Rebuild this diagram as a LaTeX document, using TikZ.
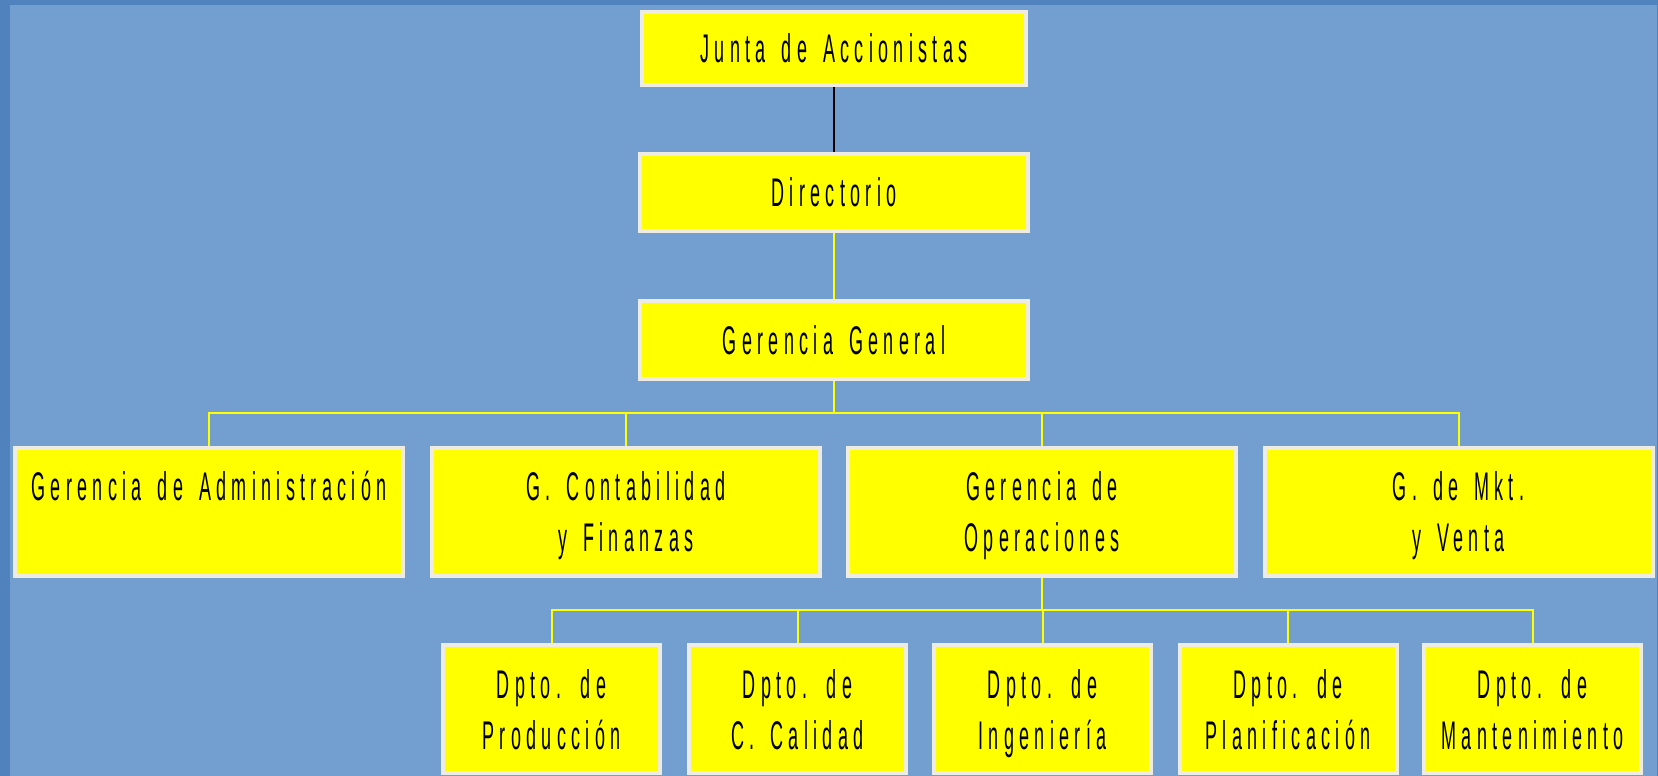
\documentclass[tikz,border=0pt]{standalone}
\usepackage{fontspec}
\newfontfamily\narrowfont[FakeStretch=0.45, LetterSpace=13.3, WordSpace=1.55]{Liberation Sans}
\usetikzlibrary{backgrounds}
\newcommand\toplift{\rule{0pt}{36pt}}
\newcommand\deptlift{\rule{0pt}{38pt}}
\newcommand\botdepth{\rule[-9pt]{0pt}{0pt}}
\definecolor{bgblue}{RGB}{114,159,207}
\definecolor{edgeblue}{RGB}{80,130,190}
\definecolor{boxedge}{RGB}{238,236,226}
\definecolor{boxfill}{RGB}{255,255,0}
\definecolor{linkyellow}{RGB}{255,255,0}
\tikzset{
  orgbox/.style={draw=boxedge, line width=4pt, fill=boxfill, inner sep=0pt,
    align=center, text=black, font=\narrowfont\fontsize{40}{51}\selectfont},
  topbox/.style={orgbox, minimum width=384pt, minimum height=73pt},
  midbox/.style={orgbox, minimum width=388pt, minimum height=78pt},
  rowbox/.style={orgbox, minimum width=388pt, minimum height=128pt},
  deptbox/.style={orgbox, minimum width=217pt, minimum height=128pt},
  conn/.style={draw=linkyellow, line width=2pt},
  blackconn/.style={draw=black, line width=2pt}
}
\begin{document}
\begin{tikzpicture}[x=1pt,y=-1pt]
\useasboundingbox (0,0) rectangle (1658,776);
\begin{scope}[on background layer]
  \fill[edgeblue] (0,0) rectangle (1658,776);
  \fill[bgblue] (10,5) rectangle (1657,776);
\end{scope}
\begin{scope}
\clip (0,0) rectangle (1658,776);
\node[topbox] (junta) at (834,48.5) {Junta de Accionistas};
\node[midbox, minimum height=77pt] (dir) at (834,192.5) {Directorio};
\node[midbox] (gg) at (834,340) {Gerencia General};
\node[rowbox] (adm) at (209,512) {\toplift Gerencia de Administración\\\botdepth};
\node[rowbox] (cont) at (626,512) {\toplift G. Contabilidad\\y Finanzas\botdepth};
\node[rowbox] (ope) at (1042,512) {\toplift Gerencia de\\Operaciones\botdepth};
\node[rowbox] (mkt) at (1458.5,512) {\toplift G. de Mkt.\\y Venta\botdepth};
\node[deptbox] (prod) at (551.5,709) {\deptlift Dpto. de\\Producción\botdepth};
\node[deptbox] (cal) at (797.5,709) {\deptlift Dpto. de\\C. Calidad\botdepth};
\node[deptbox] (ing) at (1042.5,709) {\deptlift Dpto. de\\Ingeniería\botdepth};
\node[deptbox] (plan) at (1288,709) {\deptlift Dpto. de\\Planificación\botdepth};
\node[deptbox] (mant) at (1532.5,709) {\deptlift Dpto. de\\Mantenimiento\botdepth};
\end{scope}
\begin{scope}[on background layer]
  \draw[blackconn] (junta.south) -- (dir.north);
  \draw[conn] (dir.south) -- (gg.north);
  \coordinate (bus1) at (834,413);
  \draw[conn] (gg.south) -- (bus1);
  \foreach \n in {adm,cont,ope,mkt} \draw[conn] (bus1) -| (\n.north);
  \coordinate (bus2) at (1042,610);
  \draw[conn] (ope.south) -- (bus2);
  \foreach \n in {prod,cal,ing,plan,mant} \draw[conn] (bus2) -| (\n.north);
\end{scope}
\end{tikzpicture}
\end{document}
